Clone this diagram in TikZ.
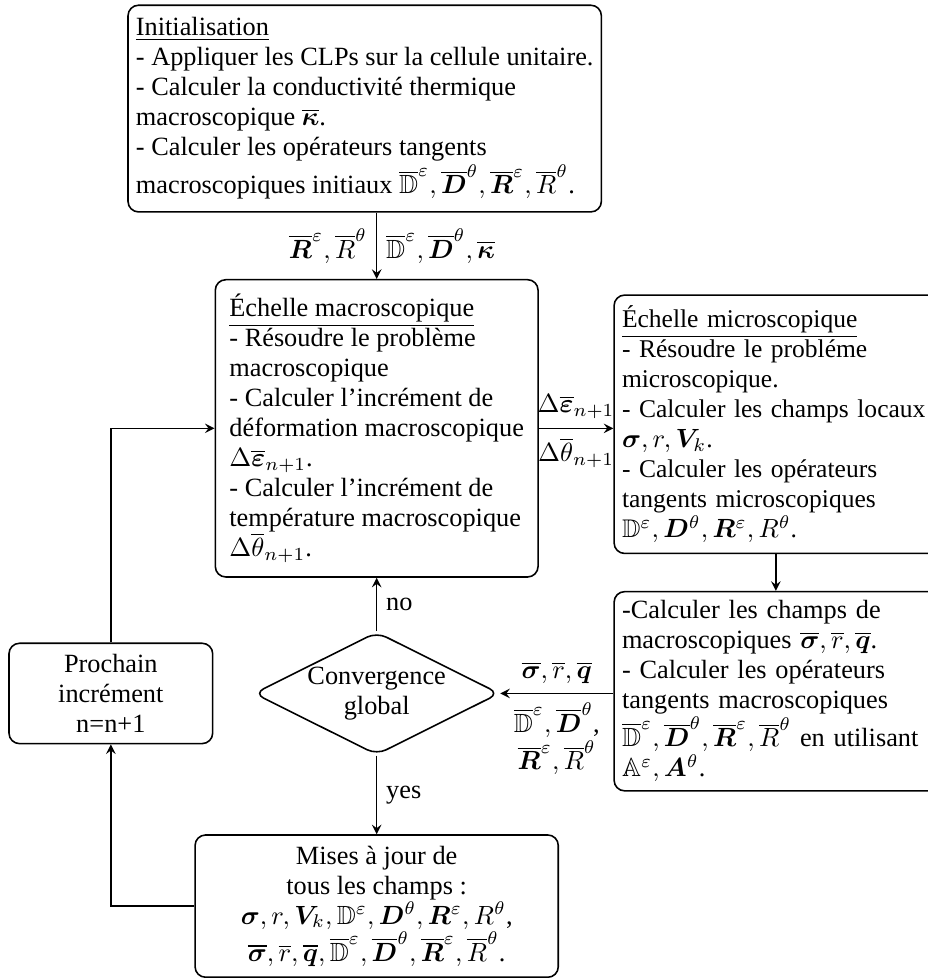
\documentclass[tikz,border=0pt]{standalone}
\usepackage{amsmath,amssymb}
\usepackage{bm}
\usepackage{fontspec}
\setmainfont{Liberation Serif}
\usetikzlibrary{positioning,arrows,shapes.geometric}

\begin{document}
\begin{tikzpicture}[every node/.style={font=\fontsize{10}{11.4}\selectfont},
	box/.style={draw,rounded corners,line width=0.6pt,inner sep=3pt},
	leftbox/.style={box,align=left},
	midbox/.style={box,align=center},
	decision/.style={draw,diamond,aspect=2,rounded corners,line width=0.6pt,inner sep=0pt,align=center,minimum width=3.28cm,minimum height=1.64cm},
	link/.style={-stealth,line width=0.6pt}]
	\useasboundingbox (0,0) rectangle (12.39,-13.06);
	% Boxes
	\node[leftbox,minimum width=6.28cm,minimum height=2.76cm] (init) at (4.87,-1.45)
		{\underline{Initialisation}\\
		- Appliquer les CLPs sur la cellule unitaire.\\
		- Calculer la conductivité thermique\\
		macroscopique $\overline{\bm\kappa}$.\\
		- Calculer les opérateurs tangents\\
		macroscopiques initiaux $\overline{\mathbb{D}}^{\varepsilon},\overline{\bm D}^{\theta},\overline{\bm R}^{\varepsilon},\overline{R}^{\theta}$.};
	\node[leftbox,minimum width=4.31cm,minimum height=3.97cm] (macro) at (5.03,-5.72)
		{\underline{Échelle macroscopique}\\
		- Résoudre le problème\\
		macroscopique\\
		- Calculer l'incrément de\\
		déformation macroscopique\\
		$\Delta\overline{\bm\varepsilon}_{n+1}$.\\
		- Calculer l'incrément de\\
		température macroscopique\\
		$\Delta\overline{\theta}_{n+1}$.};
	\node[leftbox,anchor=north west,text width=4.5cm,minimum height=3.45cm,font=\fontsize{9.7}{11.4}\selectfont] (micro) at (8.19,-3.93)
		{\underline{Échelle microscopique}\\
		- Résoudre le probléme\\
		microscopique.\\
		- Calculer les champs locaux\\
		$\bm\sigma,r,\bm V_{k}$.\\
		- Calculer les opérateurs\\
		tangents microscopiques\\
		$\mathbb{D}^{\varepsilon},\bm D^{\theta},\bm R^{\varepsilon},R^{\theta}$.};
	\node[leftbox,anchor=north west,text width=4.5cm,minimum height=2.66cm] (calc) at (8.19,-7.89)
		{-Calculer les champs de\\
		macroscopiques $\overline{\bm\sigma},\overline{r},\overline{\bm q}$.\\
		- Calculer les opérateurs\\
		tangents macroscopiques\\
		$\overline{\mathbb{D}}^{\varepsilon},\overline{\bm D}^{\theta},\overline{\bm R}^{\varepsilon},\overline{R}^{\theta}$ en utilisant\\
		$\mathbb{A}^{\varepsilon},\bm A^{\theta}$.};
	\coordinate (drop) at (10.36,-7);
	\node[decision] (conv) at (5.03,-9.26) {Convergence\\ global};
	\node[midbox,minimum width=2.72cm,minimum height=1.34cm] (next) at (1.48,-9.26)
		{Prochain\\ incrément\\ n=n+1};
	\node[midbox,minimum width=4.85cm,minimum height=1.9cm] (update) at (5.03,-12.1)
		{Mises à jour de\\
		tous les champs :\\
		$\bm\sigma,r,\bm V_{k},\mathbb{D}^{\varepsilon},\bm D^{\theta},\bm R^{\varepsilon},R^{\theta}$,\\
		$\overline{\bm\sigma},\overline{r},\overline{\bm q},\overline{\mathbb{D}}^{\varepsilon},\overline{\bm D}^{\theta},\overline{\bm R}^{\varepsilon},\overline{R}^{\theta}$.};

	% Connectors
	\draw[link] (init.south -| macro.north) -- node[left]{$\overline{\bm R}^{\varepsilon},\overline{R}^{\theta}$}
		node[right]{$\overline{\mathbb{D}}^{\varepsilon},\overline{\bm D}^{\theta},\overline{\bm\kappa}$} (macro.north);
	\draw[link] (macro.east) -- node[above]{$\Delta\overline{\bm\varepsilon}_{n+1}$}
		node[below]{$\Delta\overline{\theta}_{n+1}$} (macro.east -| micro.west);
	\draw[link] (micro.south -| drop) -- (calc.north -| drop);
	\draw[link] (conv.east -| calc.west) -- node[above]{$\overline{\bm\sigma},\overline{r},\overline{\bm q}$}
		node[below,align=center]{$\overline{\mathbb{D}}^{\varepsilon},\overline{\bm D}^{\theta}$,\\ $\overline{\bm R}^{\varepsilon},\overline{R}^{\theta}$} (conv.east);
	\draw[link] (conv.north) -- node[right]{no} (macro.south);
	\draw[link] (conv.south) -- node[right]{yes} (update.north);
	\draw[link] (update.west) -| (next.south);
	\draw[link] (next.north) |- (macro.west);
\end{tikzpicture}
\end{document}
